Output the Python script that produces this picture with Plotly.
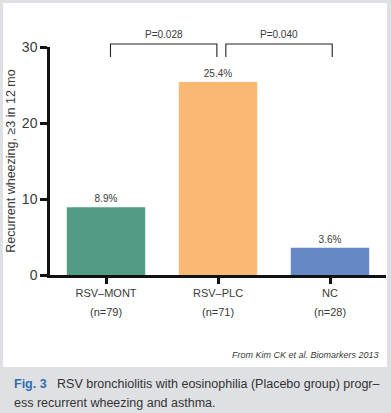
import plotly.graph_objects as go

categories = ["RSV–MONT", "RSV–PLC", "NC"]
n_labels = ["(n=79)", "(n=71)", "(n=28)"]
values = [8.9, 25.4, 3.6]
value_labels = ["8.9%", "25.4%", "3.6%"]
bar_colors = ["#529c86", "#f9b873", "#6688c5"]
y_ticks = [0, 10, 20, 30]
comparisons = [(0, 1, "P=0.028"), (1, 2, "P=0.040")]

FONT = "Liberation Sans, Arial, sans-serif"
TXT = "#3a3a3a"

# plot area in px: x 50..386, y 47..275 (figure 391x413)
W, H = 391, 413
L, R, T, B = 50, 5, 47, 138
pw, ph = W - L - R, H - T - B

def px_x(px):
    return (px - L) / pw

def px_y(py):
    return (H - B - py) / ph

fig = go.Figure()
fig.add_trace(go.Bar(
    x=list(range(len(categories))), y=values,
    marker=dict(color=bar_colors, line=dict(width=0)),
    width=0.7,
    text=value_labels, textposition="outside",
    textfont=dict(family=FONT, size=10, color=TXT),
    cliponaxis=False, hoverinfo="skip",
))

shapes = [
    dict(type="rect", xref="paper", yref="paper",
         x0=px_x(3), x1=px_x(387), y0=px_y(367), y1=px_y(3),
         fillcolor="white", line=dict(width=0), layer="below"),
]
annotations = []
y_top = px_y(44)
y_leg = px_y(57)
for (i, j, lab) in comparisons:
    x0 = i + (0.04 if i == 0 else 0.07)
    x1 = j - (0.01 if i == 0 else -0.02)
    shapes.append(dict(type="path", xref="x", yref="paper",
                       path=f"M {x0} {y_leg} L {x0} {y_top} L {x1} {y_top} L {x1} {y_leg}",
                       line=dict(color="#222", width=1.1)))
    annotations.append(dict(x=(x0 + x1) / 2, y=y_top, xref="x", yref="paper",
                            text=lab, showarrow=False, yanchor="bottom", yshift=2,
                            font=dict(family=FONT, size=10, color=TXT)))

for i, n in enumerate(n_labels):
    annotations.append(dict(x=i, y=px_y(312), xref="x", yref="paper", text=n,
                            showarrow=False, yanchor="middle",
                            font=dict(family=FONT, size=11, color=TXT)))

annotations.append(dict(x=px_x(381), y=px_y(355), xref="paper", yref="paper",
                        text="<i>From Kim CK et al. Biomarkers 2013</i>", showarrow=False,
                        xanchor="right", yanchor="middle",
                        font=dict(family=FONT, size=9, color=TXT)))
annotations.append(dict(x=px_x(12), y=px_y(384), xref="paper", yref="paper",
                        text="<b><span style='color:#2f6db0'>Fig. 3</span></b>   RSV bronchiolitis with eosinophilia (Placebo group) progr–",
                        showarrow=False, xanchor="left", yanchor="middle",
                        font=dict(family=FONT, size=12.5, color="#333")))
annotations.append(dict(x=px_x(12), y=px_y(403), xref="paper", yref="paper",
                        text="ess recurrent wheezing and asthma.",
                        showarrow=False, xanchor="left", yanchor="middle",
                        font=dict(family=FONT, size=12.5, color="#333")))

fig.update_layout(
    width=W, height=H,
    margin=dict(l=L, r=R, t=T, b=B, pad=0),
    paper_bgcolor="#dfe0e4", plot_bgcolor="white",
    showlegend=False,
    shapes=shapes, annotations=annotations,
    font=dict(family=FONT, color=TXT),
    xaxis=dict(range=[-0.5, 2.5], tickmode="array",
               tickvals=list(range(len(categories))), ticktext=categories,
               showline=True, linecolor="#111", linewidth=2.5,
               ticks="outside", ticklen=6, tickwidth=2.5, tickcolor="#111",
               tickfont=dict(family=FONT, size=11, color=TXT),
               showgrid=False, zeroline=False, fixedrange=True),
    yaxis=dict(range=[0, 30], tickvals=y_ticks,
               showline=True, linecolor="#111", linewidth=2.5,
               ticks="outside", ticklen=7, tickwidth=2.5, tickcolor="#111",
               tickfont=dict(family=FONT, size=14, color=TXT),
               showgrid=False, zeroline=False, fixedrange=True,
               title=dict(text="Recurrent wheezing, ≥3 in 12 mo", standoff=4,
                          font=dict(family=FONT, size=12.5, color=TXT))),
)

fig.write_html("out.html", config={"displayModeBar": False})

# remove the browser's default page margin so the figure sits at the top-left corner
with open("out.html", "r", encoding="utf-8") as f:
    html = f.read()
html = html.replace("<head>", "<head><style>html,body{margin:0;padding:0;overflow:hidden;}</style>", 1)
with open("out.html", "w", encoding="utf-8") as f:
    f.write(html)
